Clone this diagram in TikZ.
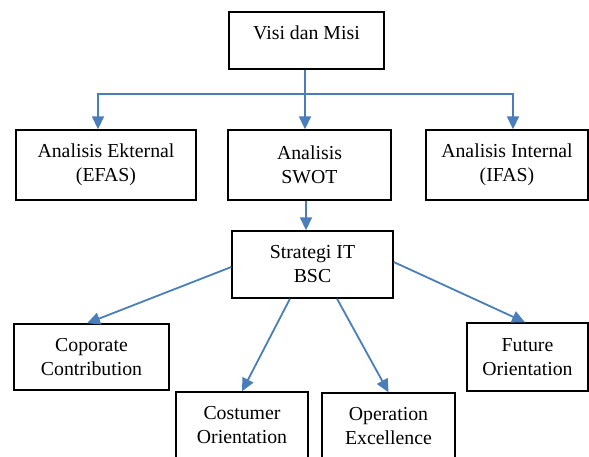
\documentclass[tikz,border=0pt]{standalone}
\usepackage{fontspec}
\setmainfont{Liberation Serif}
\usetikzlibrary{arrows.meta}
\definecolor{garisbiru}{HTML}{4A7EBB}

\begin{document}
\begin{tikzpicture}[x=1pt,y=-1pt,
	kotak/.style={draw, line width=1.4pt, align=center, inner sep=0pt,
		font=\fontsize{19.8}{24}\selectfont},
	panah/.style={garisbiru, line width=1.8pt, -{Triangle[length=13pt,width=12pt]}},
	garis/.style={garisbiru, line width=1.8pt}]
\useasboundingbox (0,0) rectangle (589,457);
\clip (0,0) rectangle (589,457);
\node[kotak, minimum width=155, minimum height=57, text depth=15pt] (visi) at (306.5,40.5) {Visi dan Misi};
\node[kotak, minimum width=180, minimum height=70] (ekst) at (106,165) {Analisis Ekternal\\(EFAS)};
\node[kotak, minimum width=163, minimum height=70] (swot) at (309.5,165) {Analisis\\SWOT};
\node[kotak, minimum width=162, minimum height=70] (intern) at (507,165) {Analisis Internal\\(IFAS)};
\node[kotak, minimum width=161, minimum height=67] (strategi) at (312.5,264.5) {Strategi IT\\BSC};
\node[kotak, minimum width=155, minimum height=66] (coporate) at (91.5,357) {Coporate\\Contribution};
\node[kotak, minimum width=132, minimum height=67] (costumer) at (242,425.5) {Costumer\\Orientation};
\node[kotak, minimum width=133, minimum height=67] (operation) at (388.5,426.5) {Operation\\Excellence};
\node[kotak, minimum width=121, minimum height=68] (future) at (527.5,357) {Future\\Orientation};
\coordinate (cabang) at (305,94);
\draw[garis] (visi.south -| cabang) -- (cabang);
\draw[panah] (cabang) -| ([xshift=-8pt]ekst.north);
\draw[panah] (cabang) -| ([xshift=6pt]intern.north);
\draw[panah] (cabang) -- (cabang |- swot.north);
\draw[panah] ([xshift=-3.5pt]swot.south) -- ([xshift=-3.5pt]swot.south |- strategi.north);
\draw[panah] ([yshift=-2.5pt]strategi.west) -- ([xshift=-4.5pt]coporate.north);
\draw[panah] ([xshift=-22.5pt]strategi.south) -- (costumer.north);
\draw[panah] ([xshift=24.5pt]strategi.south) -- (operation.north);
\draw[panah] ([yshift=2.5pt]strategi.east) -- ([xshift=-2.5pt]future.north);
\end{tikzpicture}
\end{document}
